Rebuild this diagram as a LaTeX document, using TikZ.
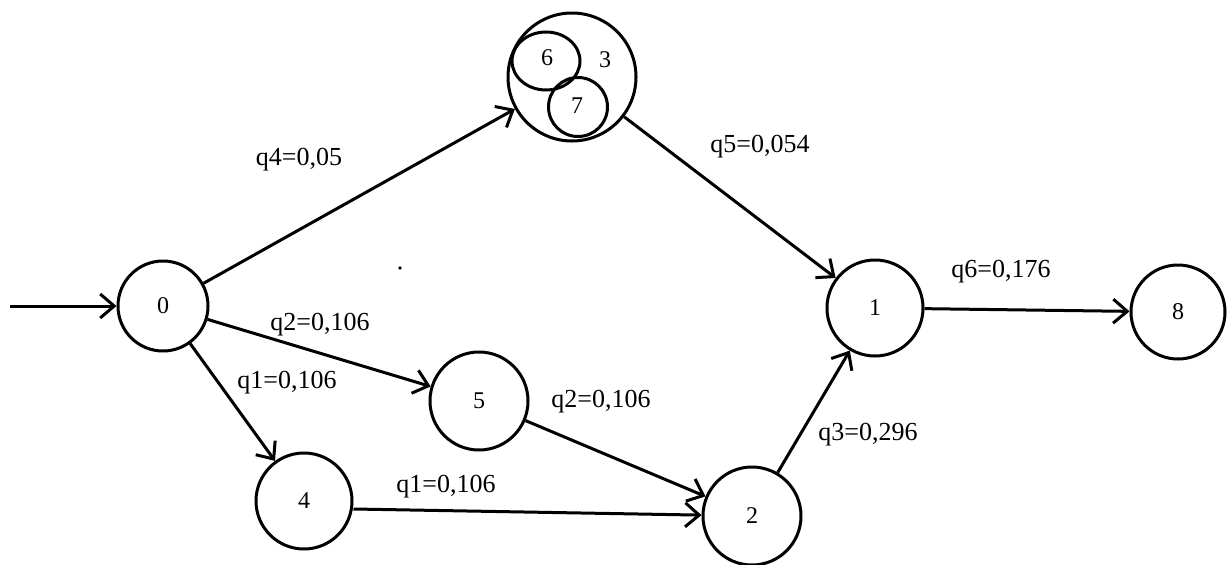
\documentclass[tikz,border=0pt]{standalone}
\usepackage{fontspec}
\setmainfont{Liberation Serif}
\usetikzlibrary{arrows.meta,shapes.geometric}
\begin{document}
\begin{tikzpicture}[x=1pt,y=-1pt,
  st/.style={circle,draw,line width=3pt,inner sep=0pt,font=\fontsize{24}{24}\selectfont},
  lbl/.style={inner sep=0pt,font=\fontsize{26}{26}\selectfont},
  edge/.style={line width=3pt,-{Straight Barb[length=14pt,width=24pt,line width=3pt]}}]
\useasboundingbox (0,0) rectangle (1227,565);
\node[st,minimum size=90pt] (n0) at (163,306) {0};
\node[st,minimum size=128pt] (n3) at (572,77) {};
\node[ellipse,draw,line width=3pt,inner sep=0pt,minimum width=68pt,minimum height=58pt] (n6) at (546,61) {};
\node[st,minimum size=59pt] (n7) at (578,107) {};
\node[inner sep=0pt,font=\fontsize{24}{24}\selectfont] (t6) at (547,58) {6};
\node[inner sep=0pt,font=\fontsize{24}{24}\selectfont] (t7) at (577,106) {7};
\node[inner sep=0pt,font=\fontsize{24}{24}\selectfont] (t3) at (605,60) {3};
\node[st,minimum size=98pt] (n5) at (479,401) {5};
\node[st,minimum size=96pt] (n4) at (304,501) {4};
\node[st,minimum size=98pt] (n2) at (752,516) {2};
\node[st,minimum size=96pt] (n1) at (875,308) {1};
\node[st,minimum size=94pt] (n8) at (1178,312) {8};
\coordinate (in) at (10,306);
\draw[edge] (in) -- (n0);
\draw[edge] (n0) -- (n3);
\draw[edge] (n0) -- (n5);
\draw[edge] (n0) -- (n4);
\draw[edge] (n5) -- (n2);
\draw[edge] (n4.east) ++(0,8) coordinate (s4) (s4) -- (n2);
\draw[edge] (n3) -- (n1);
\draw[edge] (n2) -- (n1);
\draw[edge] (n1) -- (n8);
\node[lbl] (l4) at (299,160) {q4=0,05};
\node[lbl] (l5) at (760,147) {q5=0,054};
\node[lbl] (l2a) at (320,325) {q2=0,106};
\node[lbl] (l1a) at (287,383) {q1=0,106};
\node[lbl] (l2b) at (601,402) {q2=0,106};
\node[lbl] (l1b) at (446,487) {q1=0,106};
\node[lbl] (l6) at (1001,272) {q6=0,176};
\node[lbl] (l3) at (868,435) {q3=0,296};
\fill (400,268) circle (1.8pt);
\end{tikzpicture}
\end{document}
